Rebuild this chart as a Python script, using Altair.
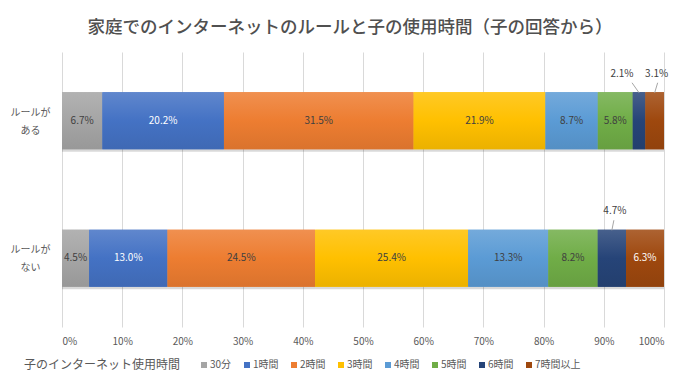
import altair as alt
import pandas as pd

groups = ["ルールがある", "ルールがない"]
cats = ["30分", "1時間", "2時間", "3時間", "4時間", "5時間", "6時間", "7時間以上"]
vals_aru = [6.7, 20.2, 31.5, 21.9, 8.7, 5.8, 2.1, 3.1]
vals_nai = [4.5, 13.0, 24.5, 25.4, 13.3, 8.2, 4.7, 6.3]
colors = ["#A5A5A5", "#4472C4", "#ED7D31", "#FFC000", "#5B9BD5", "#70AD47", "#264478", "#9E480E"]
label_colors = ["#404040", "#FFFFFF", "#404040", "#404040", "#404040", "#404040", "#FFFFFF", "#FFFFFF"]

# labels placed outside the bar (group, category) -> (label dx, leader top dx) in px
outside = {
    ("ルールがある", "6時間"): (-17, -7),
    ("ルールがある", "7時間以上"): (2, 3),
    ("ルールがない", "6時間"): (3, 2),
}

rows = []
for g, vals in zip(groups, [vals_aru, vals_nai]):
    for i, (c, v) in enumerate(zip(cats, vals)):
        rows.append({"group": g, "cat": c, "value": v, "order": i})
df = pd.DataFrame(rows)


def mix(hexc, target, t):
    h = hexc.lstrip("#")
    r, g, b = int(h[0:2], 16), int(h[2:4], 16), int(h[4:6], 16)
    tr, tg, tb = target
    r = round(r + (tr - r) * t)
    g = round(g + (tg - g) * t)
    b = round(b + (tb - b) * t)
    return "#%02X%02X%02X" % (r, g, b)


FONT = "Noto Sans CJK JP"
TXT = "#595959"

base = (
    alt.Chart(df)
    .transform_stack(stack="value", groupby=["group"], as_=["x0", "x1"],
                     sort=[alt.SortField("order")], offset="normalize")
    .transform_calculate(mid="(datum.x0 + datum.x1) / 2",
                         label="format(datum.value, '.1f') + '%'")
)

X = alt.X("x0:Q", scale=alt.Scale(domain=[0, 1], nice=False, zero=True),
          axis=alt.Axis(values=[i / 10 for i in range(11)], format="%", grid=True,
                        gridColor="#D9D9D9", gridWidth=1, domain=False, ticks=False,
                        tickSize=0, labelPadding=9, labelFontSize=10, labelColor=TXT,
                        title=None, labelFont=FONT))
Xm = alt.X("mid:Q")
Y = alt.Y("group:N", sort=groups,
          scale=alt.Scale(paddingInner=0.585, paddingOuter=0.2925),
          axis=alt.Axis(title=None, domain=False, ticks=False, tickSize=0, grid=False,
                        labelExpr="[substring(datum.label, 0, 4), substring(datum.label, 4)]",
                        labelAlign="center", labelBaseline="middle", labelPadding=32,
                        labelOffset=-8,
                        labelFontSize=10, labelColor=TXT, labelLineHeight=18, labelFont=FONT))

layers = []
# shadow
layers.append(base.mark_bar(color="#000000", opacity=0.15, yOffset=2.5, y2Offset=2.5)
              .encode(x=X, x2="x1:Q", y=Y))
# flat bars carrying the legend
layers.append(base.mark_bar().encode(
    x=X, x2="x1:Q", y=Y,
    color=alt.Color("cat:N", sort=cats, scale=alt.Scale(domain=cats, range=colors),
                    legend=alt.Legend(title="子のインターネット使用時間", orient="none",
                                      legendX=-38, legendY=308, direction="horizontal",
                                      columns=8)),
))
# gradient bars
for c, col in zip(cats, colors):
    grad = alt.Gradient(
        gradient="linear", x1=0, x2=0, y1=0, y2=1,
        stops=[alt.GradientStop(color=mix(col, (255, 255, 255), 0.15), offset=0),
               alt.GradientStop(color=col, offset=0.5),
               alt.GradientStop(color=mix(col, (0, 0, 0), 0.08), offset=1)])
    layers.append(base.transform_filter(alt.datum.cat == c)
                  .mark_bar(color=grad).encode(x=X, x2="x1:Q", y=Y))

# inside labels
out_expr = " || ".join(f"(datum.group == '{g}' && datum.cat == '{c}')" for g, c in outside)
for c, lc in zip(cats, label_colors):
    layers.append(base.transform_filter(alt.datum.cat == c)
                  .transform_filter(f"!({out_expr})")
                  .mark_text(fontSize=10, color=lc, font=FONT, baseline="middle")
                  .encode(x=Xm, y=Y, text="label:N"))

# outside labels with leader lines
for (g, c), (ldx, rdx) in outside.items():
    sub = base.transform_filter((alt.datum.group == g) & (alt.datum.cat == c))
    layers.append(sub.mark_rule(color="#A6A6A6", strokeWidth=1, yOffset=-28, y2Offset=-38,
                                x2Offset=rdx)
                  .encode(x=Xm, x2="mid:Q", y=Y, y2="group:N"))
    layers.append(sub.mark_text(fontSize=10, color="#404040", font=FONT, dx=ldx, dy=-47,
                                baseline="middle")
                  .encode(x=Xm, y=Y, text="label:N"))

legend_cfg = alt.LegendConfig(
    titleOrient="left", titleFontSize=12, titleColor=TXT,
    titleFontWeight="normal", titleFont=FONT, titlePadding=18,
    titleBaseline="middle", titleAnchor="middle",
    labelFontSize=10, labelColor=TXT, labelFont=FONT, labelOffset=1,
    symbolType="square", symbolSize=36, symbolStrokeWidth=0,
    columnPadding=10)

chart = (
    alt.layer(*layers)
    .properties(
        width=602, height=275,
        autosize=alt.AutoSizeParams(type="none"),
        padding={"left": 54, "top": 44, "right": 12, "bottom": 44},
        title=alt.TitleParams("家庭でのインターネットのルールと子の使用時間（子の回答から）",
                              anchor="middle", frame="group", dx=-13, offset=16,
                              fontSize=17.5, color="#505050", fontWeight=500, font=FONT),
    )
    .configure(font=FONT, view=alt.ViewConfig(stroke=None), legend=legend_cfg)
)

chart.save("out.html", embed_options={"renderer": "svg", "actions": False})
